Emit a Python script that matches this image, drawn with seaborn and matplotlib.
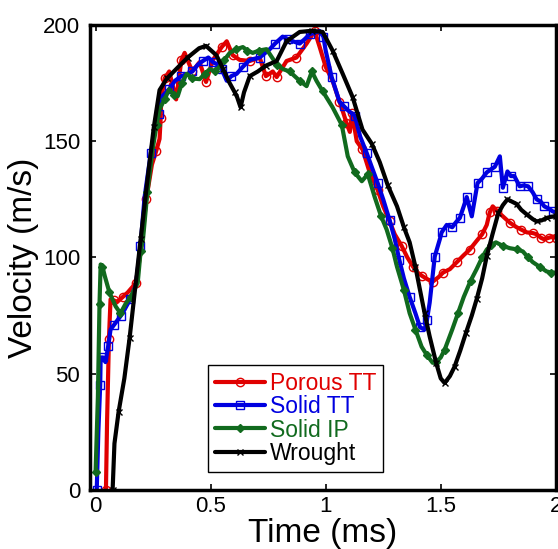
import numpy as np
import pandas as pd
import matplotlib
matplotlib.use("Agg")
import matplotlib.pyplot as plt
import seaborn as sns

# Wrought
t_wrought = [0.074, 0.082, 0.10, 0.125, 0.148, 0.17, 0.196, 0.225, 0.253, 0.278, 0.31, 0.35, 0.40, 0.45,
             0.48, 0.525, 0.555, 0.58, 0.605, 0.615, 0.63, 0.645, 0.67, 0.705, 0.74, 0.787, 0.83, 0.887,
             0.94, 0.987, 1.03, 1.074, 1.117, 1.16, 1.20, 1.235, 1.27, 1.31, 1.34, 1.365, 1.39, 1.41,
             1.43, 1.452, 1.48, 1.50, 1.517, 1.54, 1.56, 1.585, 1.61, 1.635, 1.656, 1.68, 1.70, 1.725,
             1.75, 1.77, 1.79, 1.81, 1.83, 1.85, 1.874, 1.90, 1.917, 1.94, 1.96, 1.98, 2.0]
v_wrought = [0, 20, 33.6, 48, 65.5, 85, 108, 133, 156, 172, 177, 181, 186, 190,
             191, 187, 181, 175.5, 171, 169, 164.6, 171, 178, 180, 182.5, 184.5, 193, 197,
             197.5, 197, 189, 179, 169, 155, 149, 141, 131, 122, 113, 106.5, 96, 86,
             76, 66, 54.7, 48, 46, 49, 53, 60, 67.7, 75, 82, 91, 100.5, 110,
             119, 122.5, 125, 124, 123, 120.5, 118.5, 116.5, 115.5, 116, 117, 117.5, 117.7]

# Porous TT
t_porous = [0.045, 0.05, 0.058, 0.065, 0.08, 0.095, 0.118, 0.14, 0.175, 0.2, 0.22, 0.245, 0.264, 0.278,
            0.283, 0.285, 0.30, 0.32, 0.335, 0.35, 0.373, 0.387, 0.42, 0.452, 0.48, 0.51, 0.548, 0.57,
            0.596, 0.626, 0.67, 0.713, 0.74, 0.77, 0.787, 0.83, 0.873, 0.917, 0.952, 0.974, 1.0, 1.03,
            1.06, 1.074, 1.09, 1.105, 1.115, 1.135, 1.16, 1.19, 1.226, 1.25, 1.278, 1.30, 1.33, 1.355,
            1.38, 1.40, 1.42, 1.445, 1.465, 1.49, 1.51, 1.54, 1.57, 1.60, 1.626, 1.655, 1.68, 1.70,
            1.713, 1.726, 1.745, 1.77, 1.80, 1.83, 1.85, 1.874, 1.90, 1.917, 1.935, 1.95, 1.97, 1.987, 2.0]
v_porous = [0, 30, 65, 82, 81.5, 81, 83, 85, 89, 105, 125, 140, 146, 151,
            160, 168, 177, 180, 174, 168, 185, 188, 180, 184, 175.5, 185, 190.5, 193,
            187, 185, 184.5, 186, 178, 180, 177.6, 184.5, 186, 192, 197.4, 190.5, 182, 176,
            167, 163, 158, 154, 162, 150, 146.5, 137, 129, 122, 115.5, 110, 105, 100,
            96, 93.5, 92, 90.5, 89.6, 91.5, 93.5, 95, 98, 101, 103.4, 107, 110, 114,
            119.4, 122, 120, 117.7, 115, 113, 112, 110.8, 110.5, 110, 108.5, 107.8, 108.5, 109, 108.5]

# Solid TT
t_solid_tt = [0.005, 0.012, 0.02, 0.022, 0.032, 0.043, 0.055, 0.065, 0.08, 0.095, 0.11, 0.126, 0.15,
              0.175, 0.195, 0.213, 0.24, 0.26, 0.274, 0.29, 0.32, 0.345, 0.373, 0.40, 0.42, 0.445,
              0.466, 0.49, 0.51, 0.53, 0.548, 0.57, 0.59, 0.613, 0.64, 0.67, 0.713, 0.757, 0.78,
              0.813, 0.835, 0.857, 0.887, 0.91, 0.93, 0.974, 0.99, 1.0, 1.026, 1.06, 1.08, 1.10,
              1.126, 1.15, 1.178, 1.2, 1.226, 1.25, 1.278, 1.30, 1.32, 1.34, 1.365, 1.39, 1.41,
              1.43, 1.44, 1.452, 1.474, 1.496, 1.504, 1.526, 1.55, 1.565, 1.583, 1.60, 1.613,
              1.635, 1.66, 1.68, 1.70, 1.72, 1.735, 1.757, 1.77, 1.79, 1.805, 1.82, 1.843, 1.86,
              1.88, 1.90, 1.917, 1.935, 1.95, 1.97, 1.987, 2.0]
v_solid_tt = [0, 25, 45, 57, 57, 55, 62, 69, 71, 73, 75, 77.6, 82,
              88, 105, 126, 145, 157, 161.6, 169.4, 172.4, 176, 178, 179, 180, 183,
              184.5, 186, 184, 183, 181, 176, 178, 179, 182, 185, 186, 189.6, 192,
              195, 194, 193, 192, 194, 196, 197.4, 195, 189, 177.6, 167, 165, 163,
              161, 152, 145, 139, 132, 125, 116, 108, 99, 91, 83, 76, 70,
              69, 73, 80.6, 100.4, 107.8, 110.8, 114, 113, 115, 117, 122, 126,
              117.7, 132, 134, 136.6, 138, 139, 143.5, 130, 137, 135, 135, 130.6, 131,
              130.6, 128, 125, 124, 122, 121, 119.8, 119.5]

# Solid IP
t_solid_ip = [0.0, 0.01, 0.017, 0.022, 0.03, 0.04, 0.06, 0.087, 0.108, 0.13, 0.152, 0.183, 0.196,
              0.206, 0.225, 0.248, 0.265, 0.278, 0.30, 0.32, 0.34, 0.357, 0.375, 0.396, 0.42, 0.452,
              0.475, 0.496, 0.52, 0.54, 0.56, 0.583, 0.61, 0.64, 0.66, 0.683, 0.71, 0.743, 0.787,
              0.815, 0.843, 0.865, 0.887, 0.917, 0.94, 0.96, 0.987, 1.03, 1.07, 1.096, 1.126, 1.157,
              1.183, 1.213, 1.24, 1.265, 1.29, 1.31, 1.34, 1.365, 1.39, 1.417, 1.44, 1.465, 1.48,
              1.50, 1.517, 1.55, 1.575, 1.60, 1.63, 1.656, 1.68, 1.70, 1.72, 1.74, 1.77, 1.80, 1.83,
              1.857, 1.88, 1.90, 1.93, 1.96, 1.98, 1.996]
v_solid_ip = [7.8, 40, 80, 97, 96, 92, 85, 79, 76, 80, 83, 89, 103,
              107.8, 128, 146.5, 157, 163.8, 168, 172.4, 170, 169.4, 175, 179, 177, 176.7,
              179, 181, 180, 182.3, 185, 188, 189.5, 190.5, 189, 188, 189, 189.6, 183,
              181, 180, 178, 176, 173.7, 180, 176, 171.5, 164.6, 157, 143.5, 136.6, 132.8,
              135.8, 126, 118, 112, 104, 96, 86, 76, 69, 61.6, 58, 54.7, 55,
              57, 60.3, 69, 76, 83, 90, 95, 100, 103.4, 105.5, 106.5, 105, 104, 103.5,
              102.6, 100, 98, 96, 94, 93.5, 93.5]

series = [
    ("Porous TT", t_porous, v_porous, "#e00000", "o", "none", 6),
    ("Solid TT", t_solid_tt, v_solid_tt, "#0000e0", "s", "none", 6),
    ("Solid IP", t_solid_ip, v_solid_ip, "#116a1e", "D", "#116a1e", 4),
    ("Wrought", t_wrought, v_wrought, "black", "x", "black", 5),
]

sns.set_style("ticks")
plt.rcParams["font.family"] = ["Liberation Sans", "DejaVu Sans"]
plt.rcParams["text.color"] = "black"
plt.rcParams["axes.labelcolor"] = "black"
plt.rcParams["xtick.color"] = "black"
plt.rcParams["ytick.color"] = "black"
plt.rcParams["axes.edgecolor"] = "black"

fig = plt.figure(figsize=(5.58, 5.49), dpi=100)
ax = fig.add_axes([0.161, 0.1075, 0.835, 0.847])

for name, t, v, col, mk, mfc, ms in series:
    df = pd.DataFrame({"Time": t, "Velocity": v})
    sns.lineplot(data=df, x="Time", y="Velocity", ax=ax, sort=False, estimator=None,
                 color=col, lw=3, marker=mk, mfc=mfc, mec=col, ms=ms, mew=1,
                 markevery=2, label=name)

ax.set_xlim(-0.025, 2)
ax.set_ylim(0, 200)
ax.set_xticks([0, 0.5, 1, 1.5, 2])
ax.set_xticklabels(["0", "0.5", "1", "1.5", "2"])
ax.set_yticks([0, 50, 100, 150, 200])
ax.tick_params(direction="in", top=True, right=True, length=4, width=1.2, labelsize=16)
ax.tick_params(axis="y", pad=7)
ax.tick_params(axis="x", pad=4)
for s in ax.spines.values():
    s.set_linewidth(2.5)
    s.set_color("black")
ax.set_xlabel("Time (ms)", fontsize=24, labelpad=1)
ax.set_ylabel("Velocity (m/s)", fontsize=24, labelpad=3)

leg = ax.legend(loc="lower left", bbox_to_anchor=(0.253, 0.039), fontsize=16.5, frameon=True,
                fancybox=False, edgecolor="black", framealpha=1, handlelength=2.2,
                handletextpad=0.2, labelspacing=0.02, borderpad=0.3, borderaxespad=0)
leg.get_frame().set_linewidth(1)
for txt, (_, _, _, col, _, _, _) in zip(leg.get_texts(), series):
    txt.set_color(col)

fig.savefig("out.png", dpi=100)
